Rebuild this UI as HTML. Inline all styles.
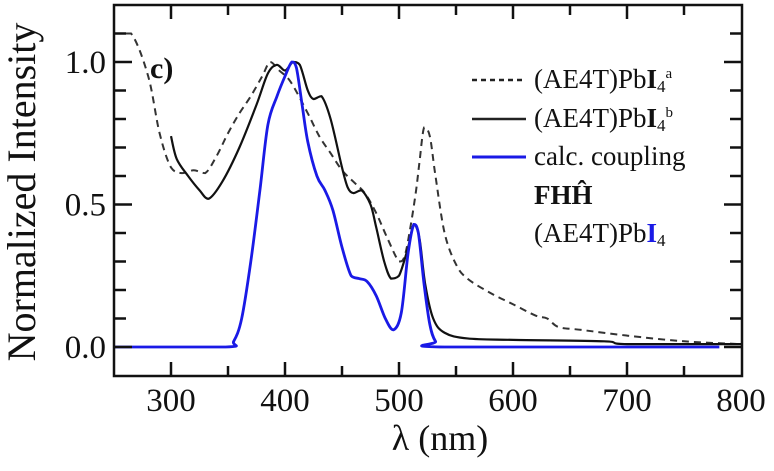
<!DOCTYPE html>
<html><head><meta charset="utf-8"><style>
html,body{margin:0;padding:0;background:#fff;width:774px;height:471px;overflow:hidden}
text{font-family:"Liberation Serif","DejaVu Serif",serif;fill:#111}
</style></head><body>
<svg id="chart" width="774" height="471" viewBox="0 0 774 471" xmlns="http://www.w3.org/2000/svg" font-family="Liberation Serif, serif">
<g id="marks"></g>
<rect x="114" y="5" width="628" height="371" fill="none" stroke="#111" stroke-width="2.5"/>
<g id="ticks"></g>
<text x="150" y="78" font-size="30" font-weight="bold">c)</text>
<text transform="translate(35,192) rotate(-90)" text-anchor="middle" font-size="40">Normalized Intensity</text>
<text x="440" y="450" text-anchor="middle" font-size="36">λ (nm)</text>
<g>
<line x1="472" y1="80" x2="526" y2="80" stroke="#222" stroke-width="2.5" stroke-dasharray="5,4"/>
<text x="534" y="88" font-size="27">(AE4T)Pb<tspan font-weight="bold">I</tspan><tspan font-size="17" dy="4">4</tspan><tspan font-size="15" dy="-14">a</tspan></text>
<line x1="472" y1="119" x2="526" y2="119" stroke="#222" stroke-width="2.5"/>
<text x="534" y="127" font-size="27">(AE4T)Pb<tspan font-weight="bold">I</tspan><tspan font-size="17" dy="4">4</tspan><tspan font-size="15" dy="-14">b</tspan></text>
<line x1="472" y1="157" x2="526" y2="157" stroke="#1a1ae6" stroke-width="3"/>
<text x="534" y="165" font-size="27">calc. coupling</text>
<text x="534" y="204" font-size="27" font-weight="bold">FHĤ</text>
<text x="534" y="242" font-size="27">(AE4T)Pb<tspan font-weight="bold" fill="#1a1ae6">I</tspan><tspan font-size="17" dy="4">4</tspan></text>
</g>
</svg>
<script>
const xTicks=[300,400,500,600,700,800];
const yTicks=[0.0,0.5,1.0];
const dashedX=[250,265,280,290,300,310,320,330,340,350,360,370,380,387,395,405,420,430,440,450,460,470,480,490,500,505,510,515,518,522,527,532,540,550,560,580,600,620,630,640,660,700,750,800];
const dashedY=[1.1,1.1,0.95,0.75,0.63,0.61,0.62,0.61,0.67,0.75,0.82,0.88,0.95,1.0,0.97,0.93,0.82,0.74,0.68,0.62,0.58,0.54,0.47,0.38,0.30,0.32,0.42,0.55,0.65,0.77,0.74,0.6,0.40,0.29,0.24,0.19,0.15,0.11,0.10,0.07,0.06,0.04,0.02,0.01];
const solidX=[300,305,315,325,333,345,360,375,385,393,400,407,413,420,425,432,440,450,455,460,467,475,480,487,493,500,508,513,518,523,530,540,560,600,680,700,800];
const solidY=[0.74,0.66,0.6,0.55,0.52,0.58,0.7,0.85,0.96,0.99,0.97,1.0,0.99,0.9,0.87,0.88,0.8,0.63,0.56,0.54,0.55,0.50,0.42,0.30,0.24,0.25,0.35,0.43,0.38,0.22,0.10,0.05,0.03,0.025,0.02,0.01,0.01];
const blueX=[250,348,355,362,370,378,385,393,400,406,410,415,420,428,435,442,450,458,465,472,480,488,495,502,508,513,517,522,527,532,540,781];
const blueY=[0,0,0.02,0.1,0.3,0.55,0.78,0.88,0.95,1.0,0.98,0.85,0.72,0.60,0.55,0.48,0.35,0.25,0.24,0.23,0.18,0.10,0.06,0.12,0.33,0.43,0.40,0.22,0.08,0.02,0,0];
const xs=v=>114+(v-250)*1.14;
const ys=v=>347-v*285;
const NS="http://www.w3.org/2000/svg";
const clamp=(v,a,b)=>Math.max(Math.min(a,b),Math.min(Math.max(a,b),v));
function pathD(X,Y){const p=X.map((x,i)=>[xs(x),ys(Y[i])]);let d=`M${p[0][0]},${p[0][1]}`;
for(let i=0;i<p.length-1;i++){const p0=p[Math.max(i-1,0)],p1=p[i],p2=p[i+1],p3=p[Math.min(i+2,p.length-1)];
const c1y=clamp(p1[1]+(p2[1]-p0[1])/6,p1[1],p2[1]),c2y=clamp(p2[1]-(p3[1]-p1[1])/6,p1[1],p2[1]);
d+=` C${p1[0]+(p2[0]-p0[0])/6},${c1y} ${p2[0]-(p3[0]-p1[0])/6},${c2y} ${p2[0]},${p2[1]}`;}return d;}
const marks=document.getElementById('marks');
function addLine(X,Y,color,w,dash,name){const el=document.createElementNS(NS,'path');el.setAttribute('d',pathD(X,Y));el.setAttribute('fill','none');el.setAttribute('stroke',color);el.setAttribute('stroke-width',w);if(dash)el.setAttribute('stroke-dasharray',dash);


marks.appendChild(el);}
addLine(dashedX,dashedY,'#333',2,'7,5','series-dashed');
addLine(solidX,solidY,'#111',2.2,null,'series-solid');
addLine(blueX,blueY,'#1a1ae6',2.8,null,'series-calc');
const tk=document.getElementById('ticks');
function ln(x1,y1,x2,y2,name){const l=document.createElementNS(NS,'line');l.setAttribute('x1',x1);l.setAttribute('y1',y1);l.setAttribute('x2',x2);l.setAttribute('y2',y2);l.setAttribute('stroke','#111');l.setAttribute('stroke-width','2.5');


tk.appendChild(l);}
for(let v=300;v<=750;v+=50){const x=xs(v);const L=(v%100===0)?14:10;ln(x,376,x,376-L,'x-tick');ln(x,5,x,5+L,'x-tick-top');}
for(let k=0;k<=11;k++){const y=ys(k/10);const L=(k%5===0)?18:12;ln(114,y,114+L,y,'y-tick');ln(742,y,742-L,y,'y-tick-right');}
xTicks.forEach(v=>{const t=document.createElementNS(NS,'text');t.setAttribute('x',xs(v));t.setAttribute('y',411);t.setAttribute('text-anchor','middle');t.setAttribute('font-size','33');t.textContent=v;


tk.appendChild(t);});
yTicks.forEach(v=>{const t=document.createElementNS(NS,'text');t.setAttribute('x',106);t.setAttribute('y',ys(v)+11);t.setAttribute('text-anchor','end');t.setAttribute('font-size','33');t.textContent=v.toFixed(1);


tk.appendChild(t);});
</script>
</body></html>
